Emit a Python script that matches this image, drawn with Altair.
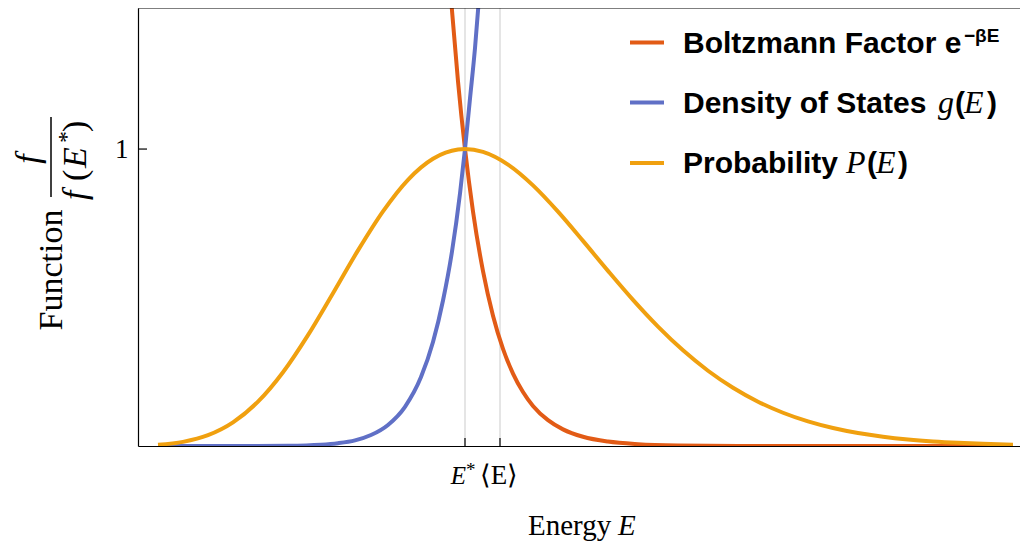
import altair as alt
import pandas as pd

# ---- data (E in arbitrary energy units) ----
prob_E = [0.20, 0.45, 0.70, 0.95, 1.20, 1.45, 1.70, 1.95, 2.20, 2.45, 2.70, 2.95, 3.20, 3.27,
          3.45, 3.70, 3.95, 4.20, 4.45, 4.70, 4.95, 5.20, 5.45, 5.70, 5.95, 6.20, 6.45, 6.70,
          6.95, 7.20, 7.45, 7.70, 7.95, 8.20, 8.45, 8.75]
prob_v = [0.0042, 0.0140, 0.0365, 0.0796, 0.1493, 0.2484, 0.3733, 0.5146, 0.6587, 0.7902,
          0.8966, 0.9674, 0.9985, 1.0000, 0.9903, 0.9475, 0.8776, 0.7892, 0.6907, 0.5897,
          0.4920, 0.4020, 0.3221, 0.2534, 0.1961, 0.1493, 0.1120, 0.0828, 0.0605, 0.0436,
          0.0311, 0.0219, 0.0153, 0.0106, 0.0073, 0.0046]

dens_E = [0.20, 0.60, 1.00, 1.50, 1.83, 2.00, 2.17, 2.33, 2.50, 2.67, 2.83, 2.95, 3.05, 3.14,
          3.22, 3.27, 3.32, 3.37, 3.42, 3.50]
dens_v = [0.0, 0.0, 0.0001, 0.001, 0.0045, 0.0095, 0.019, 0.037, 0.071, 0.132, 0.232, 0.350,
          0.490, 0.655, 0.850, 1.000, 1.170, 1.340, 1.550, 1.950]

boltz_E = [3.05, 3.14, 3.20, 3.27, 3.35, 3.45, 3.55, 3.65, 3.75, 3.85, 3.95, 4.10, 4.25, 4.45,
           4.70, 5.00, 5.40, 6.00, 7.00, 8.75]
boltz_v = [1.910, 1.466, 1.228, 1.000, 0.790, 0.589, 0.439, 0.327, 0.244, 0.182, 0.135, 0.087,
           0.056, 0.031, 0.0149, 0.0062, 0.0019, 0.0003, 0.0, 0.0]

marker_E = [3.27, 3.62]          # E*, <E>
tick_labels = ["E", "⟨E⟩"]
y_tick_values = [1]

series_colors = {"boltz": "#E25B16", "dens": "#6070C6", "prob": "#F0A00F"}

W, H = 882, 438
XMAX, YMAX = 8.82, 1.475

xs = alt.Scale(domain=[0, XMAX], nice=False, zero=False)
ys = alt.Scale(domain=[0, YMAX], nice=False, zero=False)
xaxis = alt.Axis(title=None, labels=False, ticks=False, grid=False,
                 domainColor="black", domainWidth=1.2)
yaxis = alt.Axis(title=None, values=y_tick_values, ticks=False, grid=False,
                 domainColor="black", domainWidth=1.2, labelFont="Liberation Serif",
                 labelFontSize=27, labelColor="black", labelPadding=10)

SERIF = "Liberation Serif"
SANS = "Liberation Sans"


def curve(E, v, color):
    df = pd.DataFrame({"E": E, "v": v})
    return alt.Chart(df).mark_line(color=color, strokeWidth=4, clip=True,
                                   interpolate="monotone").encode(
        x=alt.X("E:Q", scale=xs, axis=xaxis),
        y=alt.Y("v:Q", scale=ys, axis=yaxis),
        order="E:Q")


def txt(s, x, y, size, font=SERIF, style="normal", weight="normal", align="left", angle=0):
    return alt.Chart(pd.DataFrame({"t": [s]})).mark_text(
        font=font, fontSize=size, fontStyle=style, fontWeight=weight, align=align,
        baseline="alphabetic", angle=angle, color="black").encode(
        x=alt.value(x), y=alt.value(y), text="t:N")


def hrule(x1, x2, y, color, width):
    return alt.Chart(pd.DataFrame({"a": [0]})).mark_rule(color=color, strokeWidth=width).encode(
        x=alt.value(x1), x2=alt.value(x2), y=alt.value(y))


marker_df = pd.DataFrame({"E": marker_E, "t": tick_labels})

gray = alt.Chart(marker_df).mark_rule(color="#d4d4d4", strokeWidth=1.2).encode(
    x=alt.X("E:Q", scale=xs, axis=xaxis), y=alt.value(0), y2=alt.value(H))
xticks = alt.Chart(marker_df).mark_rule(color="black", strokeWidth=1.2).encode(
    x=alt.X("E:Q", scale=xs, axis=xaxis), y=alt.value(H - 8), y2=alt.value(H))
yticks = alt.Chart(pd.DataFrame({"v": y_tick_values})).mark_rule(color="black", strokeWidth=1.2).encode(
    y=alt.Y("v:Q", scale=ys, axis=yaxis), x=alt.value(0), x2=alt.value(9))
topline = hrule(0, W, 0, "black", 1.2)

lab_estar = alt.Chart(marker_df.iloc[[0]]).mark_text(
    font=SERIF, fontSize=25, fontStyle="italic", align="right", baseline="alphabetic",
    dx=1, color="black").encode(x=alt.X("E:Q", scale=xs, axis=xaxis), y=alt.value(476), text="t:N")
lab_star = alt.Chart(marker_df.iloc[[0]]).mark_text(
    font=SERIF, fontSize=19, align="left", baseline="alphabetic", dx=1, color="black").encode(
    x=alt.X("E:Q", scale=xs, axis=xaxis), y=alt.value(468), text=alt.value("*"))
lab_mean = alt.Chart(marker_df.iloc[[1]]).mark_text(
    font=SERIF, fontSize=27, align="center", baseline="alphabetic", dx=-1, color="black").encode(
    x=alt.X("E:Q", scale=xs, axis=xaxis), y=alt.value(476), text="t:N")

texts = [
    # x title
    txt("Energy", 390, 527, 29),
    txt("E", 480, 527, 29, style="italic"),
    # y title
    txt("Function", -76, 262, 34, align="center", angle=270),
    txt("f", -99, 151, 34, style="italic", align="center", angle=270),
    txt("f", -52, 192, 34, style="italic", angle=270),
    txt("(", -52, 173, 34, angle=270),
    txt("E", -52, 160, 34, style="italic", angle=270),
    txt("*", -64, 135, 24, angle=270),
    txt(")", -52, 124, 34, angle=270),
    # legend
    txt("Boltzmann Factor e", 545, 45, 30, font=SANS, weight="bold"),
    txt("−βE", 826, 34, 19, font=SANS, weight="bold"),
    txt("Density of States", 545, 105, 30, font=SANS, weight="bold"),
    txt("g", 800, 105, 32, style="italic"),
    txt("(", 817, 105, 30, font=SANS, weight="bold"),
    txt("E", 826, 105, 32, style="italic"),
    txt(")", 849, 105, 30, font=SANS, weight="bold"),
    txt("Probability", 545, 165, 30, font=SANS, weight="bold"),
    txt("P", 708, 165, 32, style="italic"),
    txt("(", 729, 165, 30, font=SANS, weight="bold"),
    txt("E", 738, 165, 32, style="italic"),
    txt(")", 760, 165, 30, font=SANS, weight="bold"),
]

frac_bar = alt.Chart(pd.DataFrame({"a": [0]})).mark_rule(color="black", strokeWidth=1.5).encode(
    x=alt.value(-87), y=alt.value(109), y2=alt.value(189))

legend_lines = [
    hrule(492, 526, 34.5, series_colors["boltz"], 4),
    hrule(492, 526, 94.5, series_colors["dens"], 4),
    hrule(492, 526, 155, series_colors["prob"], 4),
]

chart = alt.layer(
    gray,
    curve(boltz_E, boltz_v, series_colors["boltz"]),
    curve(dens_E, dens_v, series_colors["dens"]),
    curve(prob_E, prob_v, series_colors["prob"]),
    xticks, yticks, topline, lab_estar, lab_star, lab_mean, frac_bar,
    *legend_lines, *texts,
).properties(
    width=W, height=H,
    padding={"left": 130, "top": 0, "right": 0, "bottom": 100},
    autosize=alt.AutoSizeParams(type="none"),
).configure_view(strokeWidth=0)

chart.save("out.html", embed_options={"renderer": "svg", "actions": False})
